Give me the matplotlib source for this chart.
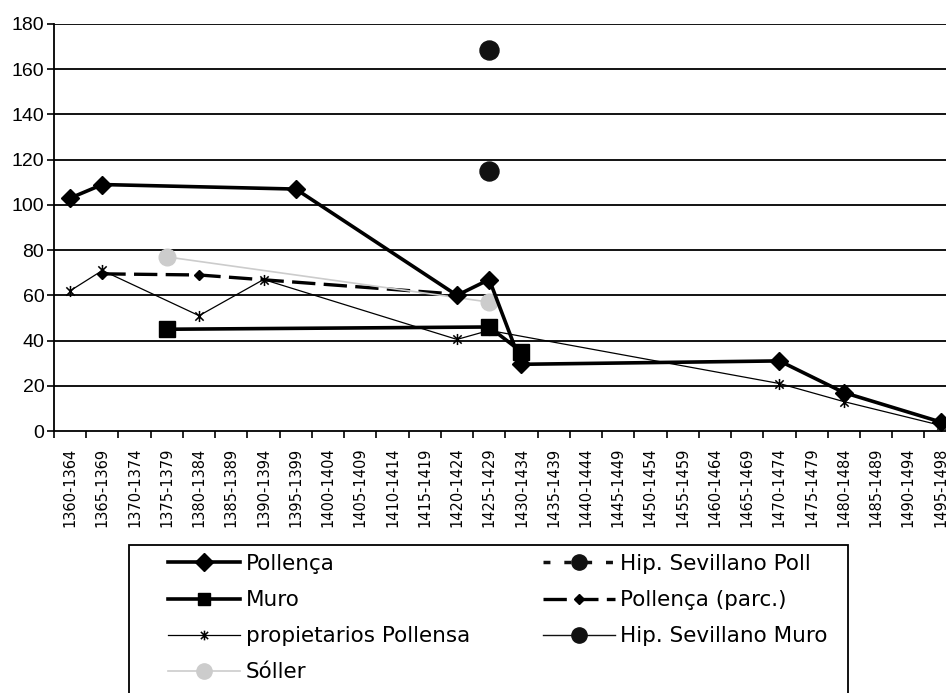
import numpy as np
import matplotlib
matplotlib.use("Agg")
import matplotlib.pyplot as plt
from matplotlib.path import Path
from matplotlib.patches import Rectangle

nan = np.nan

periodos = [f"{a}-{a + 4}" for a in range(1360, 1495, 5)] + ["1495-1498"]

pollenca = [103, 109, nan, nan, nan, nan, nan, 107, nan, nan, nan, nan, 60, 67, 29.5,
            nan, nan, nan, nan, nan, nan, nan, 31, nan, 17, nan, nan, 4]
muro = [nan, nan, nan, 45, nan, nan, nan, nan, nan, nan, nan, nan, nan, 46, 35,
        nan, nan, nan, nan, nan, nan, nan, nan, nan, nan, nan, nan, nan]
propietarios = [62, 71, nan, nan, 51, nan, 67, nan, nan, nan, nan, nan, 40.5, 44.5, nan,
                nan, nan, nan, nan, nan, nan, nan, 21, nan, 13, nan, nan, 2.5]
soller = [nan, nan, nan, 77, nan, nan, nan, nan, nan, nan, nan, nan, nan, 57, nan,
          nan, nan, nan, nan, nan, nan, nan, nan, nan, nan, nan, nan, nan]
hip_poll = [nan] * 13 + [168.5] + [nan] * 14
pollenca_parc = [nan, 69.5, nan, nan, 69, nan, nan, nan, nan, nan, nan, nan, 60.5, nan, nan,
                 nan, nan, nan, nan, nan, nan, nan, nan, nan, nan, nan, nan, nan]
hip_muro = [nan] * 13 + [115] + [nan] * 14


def xy(vals):
    v = np.array(vals, dtype=float)
    x = np.arange(len(v))
    ok = ~np.isnan(v)
    return x[ok], v[ok]


# excel style asterisk: X plus a vertical bar
d = 0.75
asterisco = Path([(0, -1), (0, 1), (-d, -d), (d, d), (-d, d), (d, -d)],
                 [Path.MOVETO, Path.LINETO] * 3)

fig = plt.figure(figsize=(9.46, 6.93), dpi=100)
W, H = 946, 693
ax = fig.add_axes([54 / W, 262 / H, 902.7 / W, 407 / H])

for y in range(20, 181, 20):
    ax.axhline(y, color="black", lw=1.3, zorder=1)

series = []
series.append(ax.plot(*xy(pollenca), color="black", lw=2.6, marker="D", ms=9,
                      label="Pollença", zorder=5)[0])
series.append(ax.plot(*xy(muro), color="black", lw=2.6, marker="s", ms=12,
                      label="Muro", zorder=6)[0])
series.append(ax.plot(*xy(propietarios), color="black", lw=0.9, marker=asterisco, ms=8,
                      mew=1.1, label="propietarios Pollensa", zorder=4)[0])
series.append(ax.plot(*xy(soller), color="#cccccc", lw=1.2, marker="o", ms=12,
                      label="Sóller", zorder=3)[0])
series.append(ax.plot(*xy(hip_poll), color="#111111", lw=2.5, ls=(0, (2, 4)), marker="o", ms=13.7,
                      label="Hip. Sevillano Poll", zorder=6)[0])
series.append(ax.plot(*xy(pollenca_parc), color="black", lw=2.4, ls=(0, (7, 2.5)), marker="D", ms=5,
                      label="Pollença (parc.)", zorder=2)[0])
series.append(ax.plot(*xy(hip_muro), color="#111111", lw=1.0, marker="o", ms=13.7,
                      label="Hip. Sevillano Muro", zorder=6)[0])

ax.set_xlim(-0.5, 27.5)
ax.set_ylim(0, 180)
ax.set_yticks(range(0, 181, 20))
ax.set_xticks(np.arange(-0.5, 28, 1))
ax.set_xticklabels([])
ax.set_xticks(np.arange(28), minor=True)
ax.set_xticklabels(periodos, minor=True, rotation=90, fontsize=10.5, family="DejaVu Sans")
ax.tick_params(axis="x", which="minor", length=0, pad=12)
ax.tick_params(axis="x", which="major", length=5, width=1.2, direction="out")
ax.tick_params(axis="y", length=5, width=1.2, direction="out", pad=2)
for lab in ax.get_yticklabels():
    lab.set_family("Liberation Sans")
    lab.set_fontsize(14)

for s in ["top", "right"]:
    ax.spines[s].set_visible(False)
ax.spines["left"].set_linewidth(1.3)
ax.spines["bottom"].set_linewidth(1.3)

leg = fig.legend(handles=series, loc="upper left", ncol=2,
                 bbox_to_anchor=(168 / W, 1 - 554 / H),
                 prop={"family": "DejaVu Sans", "size": 15.5}, frameon=False,
                 borderpad=0, labelspacing=0.75, columnspacing=3.4,
                 handlelength=3.35, handletextpad=0.25, borderaxespad=0)
leg_ms = [9, 8, 7, 11, 11, 5, 11]
for h, m in zip(leg.legend_handles, leg_ms):
    h.set_markersize(m)

# legend frame (runs off the bottom of the picture)
fig.patches.append(Rectangle((129 / W, -0.05), (848 - 129) / W, 0.05 + (693 - 545) / H,
                             transform=fig.transFigure, fill=False, edgecolor="black",
                             lw=1.3, clip_on=False))

fig.savefig("out.png", dpi=100)
